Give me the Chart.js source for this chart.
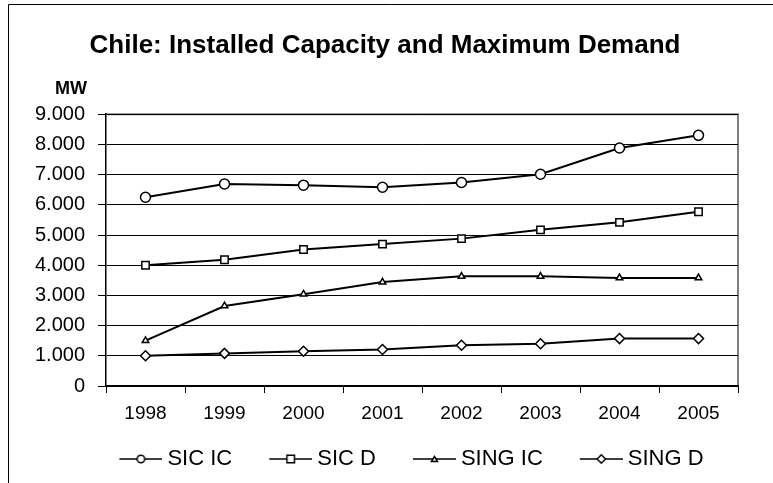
<!DOCTYPE html>
<html>
<head>
<meta charset="utf-8">
<script src="https://cdn.jsdelivr.net/npm/chart.js@4/dist/chart.umd.min.js"></script>
<style>
  html, body { margin: 0; padding: 0; background: #fff; overflow: hidden; }
  #wrap { width: 773px; height: 483px; }
</style>
</head>
<body>
<div id="wrap"><canvas id="chart" width="773" height="483"></canvas></div>
<script>
const years = ["1998", "1999", "2000", "2001", "2002", "2003", "2004", "2005"];
const sicIC = [6250, 6690, 6650, 6580, 6740, 7010, 7880, 8300];
const sicD = [4000, 4180, 4520, 4700, 4880, 5170, 5420, 5770];
const singIC = [1500, 2650, 3040, 3440, 3630, 3630, 3580, 3580];
const singD = [1000, 1080, 1150, 1210, 1350, 1400, 1570, 1570];
const seriesNames = ["SIC IC", "SIC D", "SING IC", "SING D"];
const yTicks = [0, 1000, 2000, 3000, 4000, 5000, 6000, 7000, 8000, 9000];

const FONT = "'Liberation Sans', Arial, sans-serif";

// line-marker-line icon, drawn at the right end of a wider transparent canvas
// so that it ends just before the label text
function legendIcon(style) {
  const c = document.createElement("canvas");
  c.width = 78; c.height = 12;
  const g = c.getContext("2d");
  const x0 = 35, cx = x0 + 21.5;
  g.strokeStyle = "#000"; g.lineWidth = 1.5;
  g.beginPath(); g.moveTo(x0, 6); g.lineTo(x0 + 43, 6); g.stroke();
  g.fillStyle = "#fff"; g.lineWidth = 1.5;
  g.beginPath();
  if (style === "circle") g.arc(cx, 6, 3.8, 0, Math.PI * 2);
  else if (style === "rect") g.rect(cx - 3.8, 2.2, 7.6, 7.6);
  else if (style === "triangle") { g.moveTo(cx, 3.5); g.lineTo(cx + 3, 8.5); g.lineTo(cx - 3, 8.5); g.closePath(); }
  else { g.moveTo(cx, 1.8); g.lineTo(cx + 4.2, 6); g.lineTo(cx, 10.2); g.lineTo(cx - 4.2, 6); g.closePath(); }
  g.fill(); g.stroke();
  return c;
}

const styles = ["circle", "rect", "triangle", "rectRot"];
const radii = [5, 5.2, 3.8, 5];
const values = [sicIC, sicD, singIC, singD];

const frame = {
  id: "frame",
  afterLayout(chart) {
    // nudge the legend row to the right, as in the original
    if (chart.legend) { chart.legend.left += 12; chart.legend.right += 12; }
  },
  beforeDraw(chart) {
    const { ctx, chartArea: a } = chart;
    ctx.save();
    ctx.fillStyle = "#fff";
    ctx.fillRect(0, 0, chart.width, chart.height);
    ctx.strokeStyle = "#000";
    ctx.lineWidth = 1;
    ctx.beginPath();
    ctx.moveTo(8.5, 483); ctx.lineTo(8.5, 4.5); ctx.lineTo(773, 4.5);
    ctx.stroke();
    ctx.strokeStyle = "#808080";
    ctx.lineWidth = 2;
    ctx.beginPath();
    ctx.moveTo(a.left, a.top); ctx.lineTo(a.right, a.top); ctx.lineTo(a.right, a.bottom);
    ctx.stroke();
    ctx.restore();
  },
  afterDraw(chart) {
    const ctx = chart.ctx;
    ctx.save();
    ctx.font = "bold 18px " + FONT;
    ctx.fillStyle = "#000";
    ctx.textBaseline = "middle";
    ctx.fillText("MW", 55, 89);
    ctx.restore();
  }
};

new Chart(document.getElementById("chart"), {
  type: "line",
  data: {
    labels: years,
    datasets: seriesNames.map((name, i) => ({
      label: name,
      data: values[i],
      borderColor: "#000",
      borderWidth: 2,
      pointStyle: styles[i],
      pointRadius: radii[i],
      pointBackgroundColor: "#fff",
      pointBorderColor: "#000",
      pointBorderWidth: 1.5,
      tension: 0
    }))
  },
  options: {
    responsive: false,
    animation: false,
    layout: { padding: { left: 32, right: 35, bottom: 3 } },
    scales: {
      x: {
        offset: true,
        afterFit: s => { s.height = 54; },
        grid: { offset: true, drawOnChartArea: false, color: "#000", tickLength: 7 },
        border: { color: "#000", width: 1.5 },
        ticks: { color: "#000", font: { family: FONT, size: 19 }, padding: 9, maxRotation: 0, autoSkip: false }
      },
      y: {
        min: 0, max: 9000,
        afterBuildTicks: s => { s.ticks = yTicks.map(v => ({ value: v })); },
        afterFit: s => { s.width = 74; },
        grid: { color: "#000", lineWidth: 1, tickLength: 8 },
        border: { color: "#000", width: 1.5 },
        ticks: {
          color: "#000", font: { family: FONT, size: 20 }, padding: 13, autoSkip: false,
          callback: v => String(v).replace(/\B(?=(\d{3})+(?!\d))/g, ".")
        }
      }
    },
    plugins: {
      title: {
        display: true,
        text: "Chile: Installed Capacity and Maximum Demand",
        color: "#000",
        font: { family: FONT, size: 26, weight: "bold" },
        padding: { top: 30, bottom: 53 }
      },
      legend: {
        position: "bottom",
        labels: {
          color: "#000",
          font: { family: FONT, size: 22 },
          usePointStyle: true,
          pointStyleWidth: 66,
          boxHeight: 12,
          padding: 8,
          generateLabels: chart => chart.data.datasets.map((d, i) => ({
            text: d.label,
            pointStyle: legendIcon(styles[i]),
            fillStyle: "#fff",
            strokeStyle: "#000",
            lineWidth: 0,
            datasetIndex: i,
            fontColor: "#000"
          }))
        }
      },
      tooltip: { enabled: false }
    }
  },
  plugins: [frame]
});
</script>
</body>
</html>
